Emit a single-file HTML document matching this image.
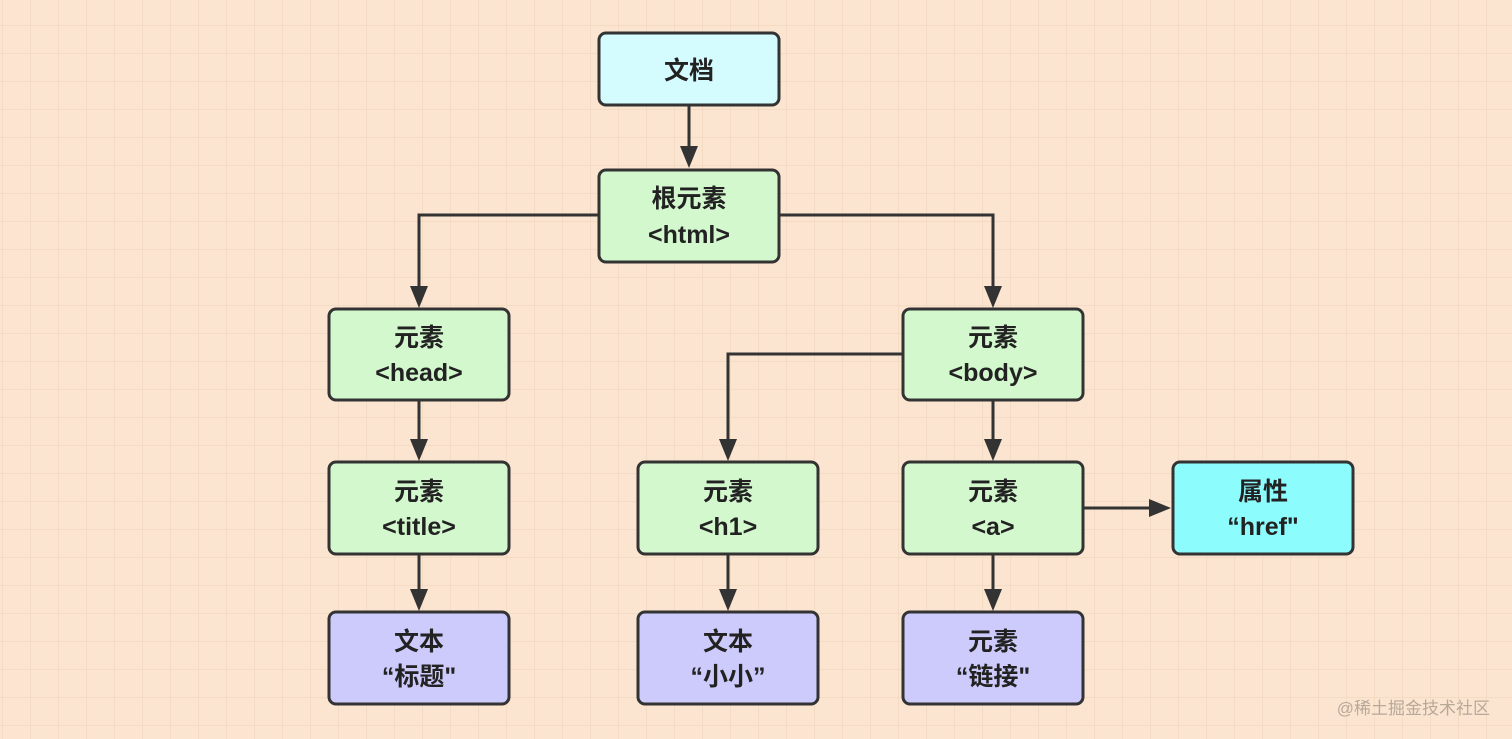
<!DOCTYPE html>
<html><head><meta charset="utf-8"><style>
html,body{margin:0;padding:0;width:1512px;height:739px;overflow:hidden;background:#fbe5d0;}
svg{display:block}
</style></head><body>
<svg width="1512" height="739" xmlns="http://www.w3.org/2000/svg">
<defs>
<pattern id="g" x="2" y="25" width="28" height="28" patternUnits="userSpaceOnUse">
<path d="M0 0H28M0 0V28" stroke="#f0d6bd" stroke-width="1.2" fill="none"/>
</pattern>
<marker id="a" viewBox="0 0 10 10" refX="10" refY="5" markerWidth="7" markerHeight="7" markerUnits="userSpaceOnUse" orient="auto">
</marker>
</defs>
<rect width="1512" height="739" fill="url(#g)"/>
<g stroke="#333" stroke-width="3" fill="none">
<path d="M689 105V150"/>
<path d="M599 215H419V290"/>
<path d="M779 215H993V290"/>
<path d="M419 400V443"/>
<path d="M419 554V593"/>
<path d="M903 354H728V443"/>
<path d="M993 400V443"/>
<path d="M728 554V593"/>
<path d="M993 554V593"/>
<path d="M1083 508H1153"/>
</g>
<g fill="#333">
<path d="M680 146H698L689 168Z"/>
<path d="M410 286H428L419 308Z"/>
<path d="M984 286H1002L993 308Z"/>
<path d="M410 439H428L419 461Z"/>
<path d="M410 589H428L419 611Z"/>
<path d="M719 439H737L728 461Z"/>
<path d="M984 439H1002L993 461Z"/>
<path d="M719 589H737L728 611Z"/>
<path d="M984 589H1002L993 611Z"/>
<path d="M1149 499V517L1171 508Z"/>
</g>
<g stroke="#333" stroke-width="3">
<rect x="599" y="33" width="180" height="72" rx="7" fill="#d4fbfd"/>
<rect x="599" y="170" width="180" height="92" rx="7" fill="#d3f8cd"/>
<rect x="329" y="309" width="180" height="91" rx="7" fill="#d3f8cd"/>
<rect x="903" y="309" width="180" height="91" rx="7" fill="#d3f8cd"/>
<rect x="329" y="462" width="180" height="92" rx="7" fill="#d3f8cd"/>
<rect x="638" y="462" width="180" height="92" rx="7" fill="#d3f8cd"/>
<rect x="903" y="462" width="180" height="92" rx="7" fill="#d3f8cd"/>
<rect x="1173" y="462" width="180" height="92" rx="7" fill="#8cfcfd"/>
<rect x="329" y="612" width="180" height="92" rx="7" fill="#cdcbfb"/>
<rect x="638" y="612" width="180" height="92" rx="7" fill="#cdcbfb"/>
<rect x="903" y="612" width="180" height="92" rx="7" fill="#cdcbfb"/>
</g>
<g font-family="Liberation Sans, Noto Sans CJK SC, sans-serif" font-size="25" font-weight="bold" fill="#222" text-anchor="middle">
<text x="689" y="79">文档</text>
<text x="689" y="207">根元素</text><text x="689" y="243">&lt;html&gt;</text>
<text x="419" y="346">元素</text><text x="419" y="381">&lt;head&gt;</text>
<text x="993" y="346">元素</text><text x="993" y="381">&lt;body&gt;</text>
<text x="419" y="500">元素</text><text x="419" y="535">&lt;title&gt;</text>
<text x="728" y="500">元素</text><text x="728" y="535">&lt;h1&gt;</text>
<text x="993" y="500">元素</text><text x="993" y="535">&lt;a&gt;</text>
<text x="1263" y="500">属性</text><text x="1263" y="535">“href"</text>
<text x="419" y="650">文本</text><text x="419" y="685">“标题"</text>
<text x="728" y="650">文本</text><text x="728" y="685">“小小”</text>
<text x="993" y="650">元素</text><text x="993" y="685">“链接"</text>
</g>
<text x="1490" y="714" font-family="Liberation Sans, Noto Sans CJK SC, sans-serif" font-size="17" fill="#b8a898" text-anchor="end">@稀土掘金技术社区</text>
</svg>
</body></html>
